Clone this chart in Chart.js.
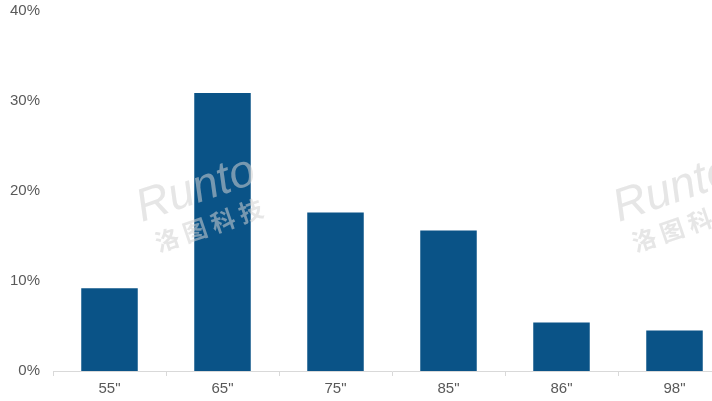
<!DOCTYPE html>
<html>
<head>
<meta charset="utf-8">
<script src="https://cdn.jsdelivr.net/npm/chart.js@4"></script>
<style>
  html, body { margin: 0; padding: 0; background: #fff; overflow: hidden; }
  #wrap { width: 733px; height: 401px; }
</style>
</head>
<body>
<div id="wrap"><canvas id="sizeChart"></canvas></div>
<script>
// 尺寸段
const categories = ['55"', '65"', '75"', '85"', '86"', '98"'];
// 占比 (%)
const shares = [9.2, 30.9, 17.6, 15.6, 5.4, 4.5];
// y 轴刻度
const yTicks = [0, 10, 20, 30, 40];

// 水印
const watermark = {
  id: 'watermark',
  afterDatasetsDraw(chart) {
    const ctx = chart.ctx;
    const marks = [[142, 222], [619, 222]];
    ctx.save();
    marks.forEach(([x, y]) => {
      ctx.save();
      ctx.translate(x, y);
      ctx.rotate(-0.33);
      ctx.fillStyle = 'rgba(210,210,210,0.55)';
      ctx.font = 'italic 46px "Liberation Sans"';
      ctx.fillText('Runto', 0, 0);
      ctx.font = 'bold 24px "Noto Sans CJK SC"';
      ctx.fillText('洛 图 科 技', 6, 34);
      ctx.restore();
    });
    ctx.restore();
  }
};

const ctx = document.getElementById('sizeChart').getContext('2d');
new Chart(ctx, {
  type: 'bar',
  data: {
    labels: categories,
    datasets: [{
      data: shares,
      backgroundColor: '#0a5387',
      barPercentage: 0.5,
      categoryPercentage: 1.0
    }]
  },
  options: {
    responsive: true,
    maintainAspectRatio: false,
    animation: false,
    layout: { padding: { top: 0, right: 2, left: 0, bottom: 0 } },
    plugins: { legend: { display: false }, tooltip: { enabled: false } },
    scales: {
      x: {
        grid: {
          display: true,
          offset: true,
          drawOnChartArea: false,
          drawTicks: true,
          tickLength: 5,
          color: '#d9d9d9'
        },
        border: { display: true, color: '#d9d9d9', width: 1 },
        ticks: {
          color: '#595959',
          font: { family: '"Liberation Sans"', size: 15 },
          padding: 4
        },
        afterFit(scale) { scale.height = 30; }
      },
      y: {
        min: 0,
        max: 40,
        afterBuildTicks(scale) { scale.ticks = yTicks.map(v => ({ value: v })); },
        grid: { display: false },
        border: { display: false },
        ticks: {
          color: '#595959',
          font: { family: '"Liberation Sans"', size: 15, lineHeight: 0.8 },
          padding: 5,
          callback: v => v + '%'
        },
        afterFit(scale) { scale.width = 53; }
      }
    }
  },
  plugins: [watermark]
});
</script>
</body>
</html>
